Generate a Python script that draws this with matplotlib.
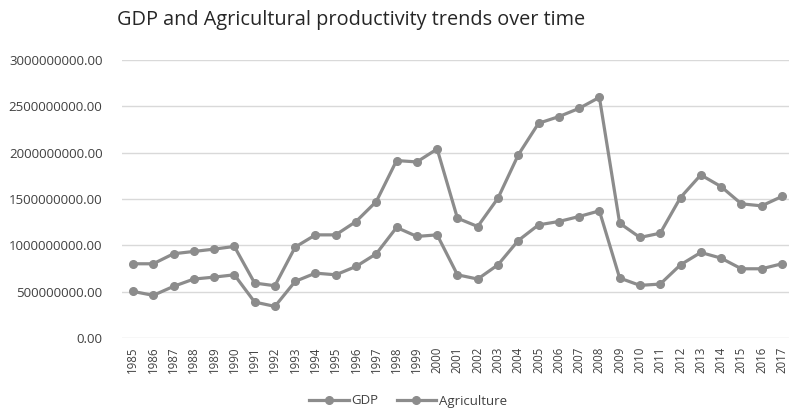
import matplotlib
matplotlib.use("Agg")
import matplotlib.pyplot as plt
from matplotlib.ticker import FuncFormatter

years = list(range(1985, 2018))
gdp = [801e6, 801e6, 909e6, 934e6, 959e6, 988e6, 593e6, 564e6, 981e6, 1113e6,
       1113e6, 1257e6, 1473e6, 1915e6, 1900e6, 2040e6, 1293e6, 1203e6, 1509e6, 1976e6,
       2317e6, 2389e6, 2478e6, 2597e6, 1239e6, 1085e6, 1131e6, 1516e6, 1760e6, 1634e6,
       1448e6, 1426e6, 1527e6]
agriculture = [503e6, 460e6, 557e6, 636e6, 657e6, 682e6, 388e6, 341e6, 611e6, 700e6,
               682e6, 772e6, 909e6, 1193e6, 1096e6, 1113e6, 682e6, 636e6, 790e6, 1052e6,
               1221e6, 1257e6, 1311e6, 1372e6, 647e6, 568e6, 582e6, 790e6, 923e6, 862e6,
               747e6, 747e6, 801e6]
series_names = ["GDP", "Agriculture"]
title = "GDP and Agricultural productivity trends over time"

plt.rcParams['font.family'] = ['Open Sans', 'DejaVu Sans']

fig = plt.figure(figsize=(7.89, 4.08), dpi=100)
ax = fig.add_axes([122/789, 70/408, 1 - 122/789, 278/408])

x = list(range(len(years)))
col = '#8c8c8c'
for vals, name in zip([gdp, agriculture], series_names):
    ax.plot(x, vals, color=col, lw=2.3, marker='o', ms=5.5, label=name, zorder=3)

ax.set_ylim(0, 3e9)
ax.set_yticks([0, 5e8, 1e9, 1.5e9, 2e9, 2.5e9, 3e9])
ax.yaxis.set_major_formatter(FuncFormatter(lambda v, p: f"{v:.2f}"))
ax.set_xlim(-0.54, 32.35)
ax.set_xticks(x)
ax.set_xticklabels([str(y) for y in years], rotation=90, fontsize=8.3, color='#404040')
ax.tick_params(axis='y', labelsize=9.5, labelcolor='#404040', length=0, pad=14)
ax.tick_params(axis='x', length=0, pad=6)
for s in ax.spines.values():
    s.set_visible(False)
ax.grid(axis='y', color='#d9d9d9', lw=1)
ax.set_axisbelow(True)

fig.text(351/789, 1 - 20/408, title, ha='center', va='center', fontsize=14.3, color='#262626')
fig.legend(loc='center', bbox_to_anchor=(408/789, 1 - 401/408), ncol=2, frameon=False,
           fontsize=9.5, handlelength=3.0, columnspacing=1.4, handletextpad=0.2,
           labelcolor='#404040')

fig.savefig("out.png", dpi=100)
